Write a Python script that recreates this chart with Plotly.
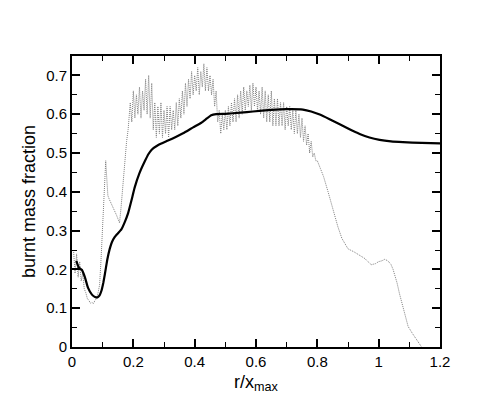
import plotly.graph_objects as go

# Solid (mean) curve
solid_r = [0.014, 0.022, 0.032, 0.042, 0.052, 0.065, 0.075, 0.083, 0.09, 0.096, 0.102, 0.107,
           0.115, 0.123, 0.13, 0.139, 0.15, 0.161, 0.172, 0.183, 0.194, 0.204, 0.22, 0.237,
           0.25, 0.259, 0.28, 0.313, 0.34, 0.367, 0.395, 0.422, 0.44, 0.454, 0.47, 0.5, 0.55,
           0.59, 0.65, 0.699, 0.753, 0.78, 0.808, 0.84, 0.873, 0.905, 0.938, 0.97, 1.003,
           1.04, 1.079, 1.14, 1.2]
solid_v = [0.222, 0.205, 0.199, 0.18, 0.153, 0.135, 0.129, 0.128, 0.133, 0.145, 0.165, 0.187,
           0.225, 0.253, 0.27, 0.283, 0.293, 0.303, 0.322, 0.345, 0.378, 0.41, 0.448, 0.478,
           0.498, 0.508, 0.52, 0.532, 0.542, 0.553, 0.566, 0.578, 0.589, 0.597, 0.6, 0.601,
           0.604, 0.607, 0.611, 0.613, 0.612, 0.607, 0.599, 0.587, 0.574, 0.561, 0.549, 0.54,
           0.534, 0.53, 0.528, 0.526, 0.525]

# Dotted (instantaneous, noisy) curve
dotted_r = [0.005, 0.010, 0.015, 0.020, 0.025, 0.030, 0.035, 0.040, 0.045, 0.050, 0.055, 0.060,
            0.065, 0.070, 0.075, 0.080, 0.085, 0.090, 0.095, 0.100, 0.105, 0.110, 0.113, 0.117,
            0.122, 0.128, 0.135, 0.145, 0.150, 0.155, 0.160, 0.166, 0.172, 0.178, 0.183,
            0.190, 0.195, 0.200, 0.205, 0.210, 0.215, 0.220, 0.225, 0.230, 0.235, 0.240, 0.245,
            0.250, 0.255, 0.260, 0.265, 0.270, 0.275, 0.280, 0.285, 0.290, 0.295, 0.300, 0.305,
            0.310, 0.315, 0.320, 0.325, 0.330, 0.335, 0.340, 0.345, 0.350, 0.355, 0.360, 0.365,
            0.370, 0.375, 0.380, 0.385, 0.390, 0.395, 0.400, 0.405, 0.410, 0.415, 0.420, 0.425,
            0.430, 0.435, 0.440, 0.445, 0.450, 0.455, 0.460, 0.465, 0.470, 0.475, 0.480, 0.485,
            0.490, 0.495, 0.500, 0.505, 0.510, 0.515, 0.520, 0.525, 0.530, 0.535, 0.540, 0.545,
            0.550, 0.555, 0.560, 0.565, 0.570, 0.575, 0.580, 0.585, 0.590, 0.595, 0.600, 0.605,
            0.610, 0.615, 0.620, 0.625, 0.630, 0.635, 0.640, 0.645, 0.650, 0.655, 0.660, 0.665,
            0.670, 0.675, 0.680, 0.685, 0.690, 0.695, 0.700, 0.705, 0.710, 0.715, 0.720, 0.725,
            0.730, 0.735, 0.740, 0.745, 0.750, 0.755, 0.760, 0.765, 0.770, 0.775, 0.780, 0.785,
            0.790, 0.795, 0.800, 0.810, 0.820, 0.835, 0.850, 0.867, 0.880, 0.900, 0.920, 0.938,
            0.955, 0.965, 0.976, 0.990, 1.000, 1.010, 1.020, 1.030, 1.040, 1.047, 1.055, 1.060,
            1.068, 1.080, 1.096, 1.110, 1.125, 1.140]
dotted_v = [0.25, 0.19, 0.24, 0.18, 0.22, 0.17, 0.19, 0.15, 0.14, 0.125, 0.12, 0.113,
            0.115, 0.112, 0.12, 0.125, 0.14, 0.16, 0.23, 0.33, 0.42, 0.48, 0.44, 0.39,
            0.38, 0.37, 0.36, 0.34, 0.33, 0.32, 0.36, 0.42, 0.48, 0.53, 0.56,
            0.63, 0.58, 0.66, 0.59, 0.65, 0.60, 0.67, 0.59, 0.66, 0.61, 0.69, 0.60,
            0.70, 0.59, 0.68, 0.56, 0.63, 0.54, 0.62, 0.55, 0.63, 0.54, 0.61, 0.55,
            0.62, 0.54, 0.62, 0.56, 0.61, 0.56, 0.63, 0.57, 0.64, 0.59, 0.66, 0.60,
            0.68, 0.62, 0.69, 0.64, 0.71, 0.65, 0.70, 0.66, 0.72, 0.65, 0.71, 0.67,
            0.73, 0.66, 0.72, 0.66, 0.70, 0.65, 0.69, 0.62, 0.66, 0.58, 0.61, 0.55,
            0.60, 0.56, 0.61, 0.56, 0.62, 0.57, 0.63, 0.58, 0.64, 0.58, 0.65, 0.59,
            0.66, 0.60, 0.67, 0.61, 0.66, 0.62, 0.675, 0.61, 0.68, 0.62, 0.67, 0.61,
            0.66, 0.60, 0.67, 0.59, 0.66, 0.58, 0.65, 0.58, 0.66, 0.57, 0.64, 0.57,
            0.64, 0.57, 0.63, 0.57, 0.63, 0.56, 0.62, 0.57, 0.62, 0.56, 0.61, 0.55,
            0.61, 0.55, 0.60, 0.54, 0.59, 0.53, 0.57, 0.52, 0.55, 0.50, 0.53, 0.49,
            0.50, 0.48, 0.48, 0.46, 0.44, 0.40, 0.355, 0.31, 0.28, 0.253, 0.245, 0.237,
            0.228, 0.22, 0.212, 0.215, 0.22, 0.222, 0.226, 0.222, 0.213, 0.20, 0.18, 0.165,
            0.137, 0.10, 0.053, 0.035, 0.018, 0.0]

x_ticks = [0, 0.2, 0.4, 0.6, 0.8, 1.0, 1.2]
x_labels = ["0", "0.2", "0.4", "0.6", "0.8", "1", "1.2"]
y_ticks = [0, 0.1, 0.2, 0.3, 0.4, 0.5, 0.6, 0.7]
y_labels = ["0", "0.1", "0.2", "0.3", "0.4", "0.5", "0.6", "0.7"]

fig = go.Figure()
fig.add_trace(go.Scatter(x=dotted_r, y=dotted_v, mode="lines",
                         line=dict(color="#808080", width=1, dash="1px,1px"),
                         showlegend=False))
fig.add_trace(go.Scatter(x=solid_r, y=solid_v, mode="lines",
                         line=dict(color="black", width=2.2, shape="spline", smoothing=0.3),
                         showlegend=False))

font_family = "Liberation Sans, Arial, Helvetica, sans-serif"
axis_common = dict(
    showline=True, linecolor="black", linewidth=2, mirror="allticks",
    ticks="inside", ticklen=8, tickwidth=1.5, tickcolor="black",
    showgrid=False, zeroline=False,
    tickfont=dict(family=font_family, size=15, color="black"),
)
fig.update_xaxes(range=[0, 1.2], tickvals=x_ticks, ticktext=x_labels,
                 minor=dict(dtick=0.1, tick0=0, ticks="inside", ticklen=5, tickwidth=1.2, tickcolor="black"),
                 title=dict(text="r/x<sub>max</sub>", font=dict(family=font_family, size=18, color="black"), standoff=6),
                 **axis_common)
fig.update_yaxes(range=[0, 0.75], tickvals=y_ticks, ticktext=y_labels,
                 minor=dict(dtick=0.05, tick0=0, ticks="inside", ticklen=5, tickwidth=1.2, tickcolor="black"),
                 title=dict(text="burnt mass fraction", font=dict(family=font_family, size=18, color="black"), standoff=6),
                 **axis_common)
fig.update_layout(width=491, height=393,
                  margin=dict(l=64, r=59, t=48, b=45),
                  plot_bgcolor="white", paper_bgcolor="white")
fig.write_html("out.html")
